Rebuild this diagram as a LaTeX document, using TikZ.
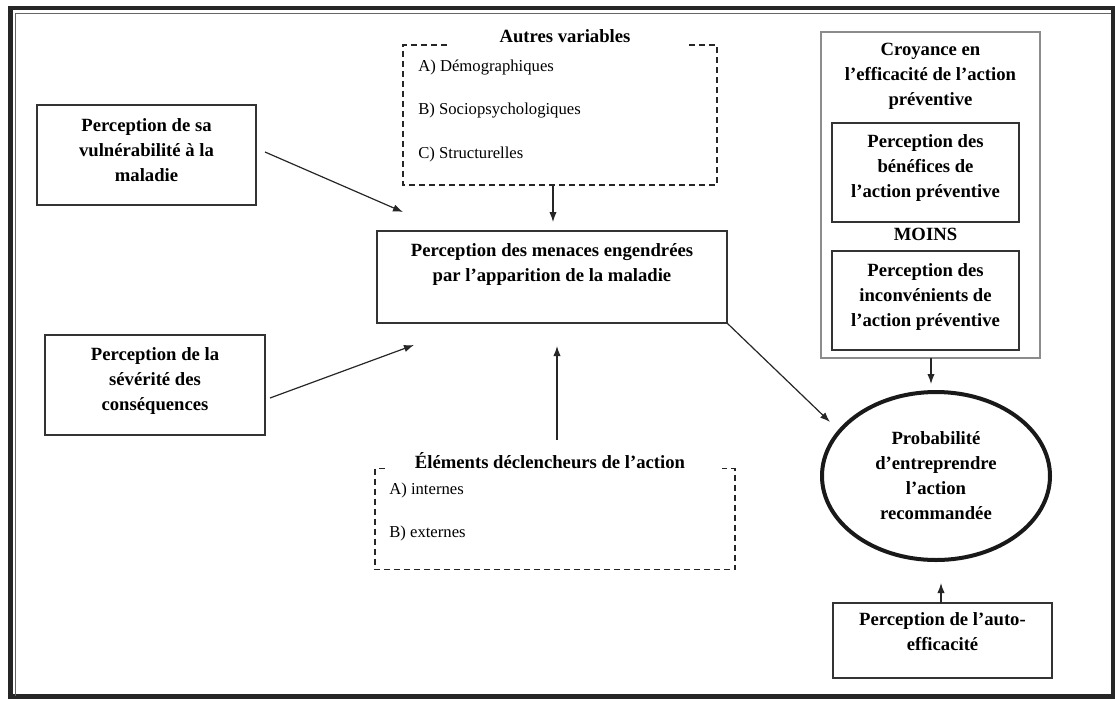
\documentclass[tikz,border=0pt]{standalone}
\usepackage{fontspec}
\setmainfont{Liberation Serif}
\usetikzlibrary{arrows.meta,shapes.geometric}
\tikzset{
  sz/.style 2 args={minimum width=#1*0.75pt, minimum height=#2*0.75pt},
  box/.style={draw=black!80, line width=1.1pt, inner sep=0pt, outer sep=0pt, align=center,
              font=\fontsize{14}{18.75}\selectfont\bfseries},
  lightbox/.style={draw=black!45, line width=1.1pt, inner sep=0pt, outer sep=0pt},
  btext/.style={align=center, inner sep=0pt, font=\fontsize{14}{18.75}\selectfont\bfseries},
  ntext/.style={anchor=west, inner sep=0pt, font=\fontsize{12.5}{15}\selectfont},
  dbox/.style={draw=black!85, line width=1.1pt, dash pattern=on 4.5pt off 3pt},
  arr/.style={draw=black!85, line width=0.9pt, -{Latex[length=7.5pt,width=5.5pt]}},
}
\begin{document}
\begin{tikzpicture}[x=0.75pt,y=-0.75pt]
\useasboundingbox (0,0) rectangle (1115,701);
% outer frame
\draw[black!85, line width=3.6pt] (10.5,8) rectangle (1113,696.5);
\draw[black!60, line width=0.9pt] (15.5,696) -- (15.5,13.5) -- (1111,13.5);

% left boxes
\node[box, sz={219}{100}] (vuln) at (146.5,155) {};
\node[btext] (vulnt) at (146.5,150) {Perception de sa\\vulnérabilité à la\\maladie};
\node[box, sz={220}{100}] (sev) at (155,385) {};
\node[btext] (sevt) at (155,381) {Perception de la\\sévérité des\\conséquences};

% menaces
\node[box, sz={350}{92}] (men) at (552,277) {};
\node[btext, anchor=north] (ment) at (552,243) {Perception des menaces engendrées\\par l'apparition de la maladie};

% autres variables (dashed)
\node[sz={314}{140}, inner sep=0pt, outer sep=0pt] (autres) at (560,115) {};
\draw[dbox] (447,45) -- (autres.north west) -- (autres.south west) -- (autres.south east) -- (autres.north east) -- (685,45);
\node[btext] (autrest) at (565,36) {Autres variables};
\node[ntext] (a1) at (418,67) {A) Démographiques};
\node[ntext] (a2) at (418,111) {B) Sociopsychologiques};
\node[ntext] (a3) at (418,154) {C) Structurelles};

% elements declencheurs (dashed)
\node[sz={360}{101}, inner sep=0pt, outer sep=0pt] (elem) at (555,519) {};
\draw[dbox] (385,468.5) -- (elem.north west) -- (elem.south west) -- (elem.south east) -- (elem.north east) -- (722,468.5);
\node[btext] (elemt) at (550,461) {Éléments déclencheurs de l'action};
\node[ntext] (e1) at (389,490) {A) internes};
\node[ntext] (e2) at (389,533) {B) externes};

% croyance
\node[lightbox, sz={219}{326}] (croy) at (930.5,195) {};
\node[btext, anchor=north] (croyt) at (930.5,43) {Croyance en\\l'efficacité de l'action\\préventive};
\node[box, sz={187}{99}] (benef) at (925.5,172.5) {};
\node[btext] (beneft) at (925.5,168.5) {Perception des\\bénéfices de\\l'action préventive};
\node[btext] (moins) at (925.5,234) {MOINS};
\node[box, sz={187}{99}] (inconv) at (925.5,300.5) {};
\node[btext] (inconvt) at (925.5,297) {Perception des\\inconvénients de\\l'action préventive};

% ellipse
\node[ellipse, draw=black!90, line width=3pt, sz={228}{168}, inner sep=0pt, align=center,
      font=\fontsize{14}{18.75}\selectfont\bfseries] (prob) at (936,476)
      {Probabilité\\d'entreprendre\\l'action\\recommandée};

% auto-efficacite
\node[box, sz={219}{75}] (auto) at (942.5,640.5) {};
\node[btext, anchor=north] (autot) at (942.5,612) {Perception de l'auto-\\efficacité};

% arrow end points
\coordinate (vulnS) at (265,152);
\coordinate (vulnE) at (403,212);
\coordinate (sevS) at (270,398);
\coordinate (sevE) at (414,345);
\coordinate (autE) at (553,222);
\coordinate (elemS) at (557,440);
\coordinate (elemE) at (557,346);
\coordinate (menE) at (830,422);
\coordinate (croyE) at (931,384);
\coordinate (autoE) at (941,583);

\draw[arr] (vulnS) -- (vulnE);
\draw[arr] (sevS) -- (sevE);
\draw[arr] (autres.south -| autE) -- (autE);
\draw[arr] (elemS) -- (elemE);
\draw[arr] (men.south east) -- (menE);
\draw[arr] (croy.south -| croyE) -- (croyE);
\draw[arr] (auto.north -| autoE) -- (autoE);
\end{tikzpicture}
\end{document}
